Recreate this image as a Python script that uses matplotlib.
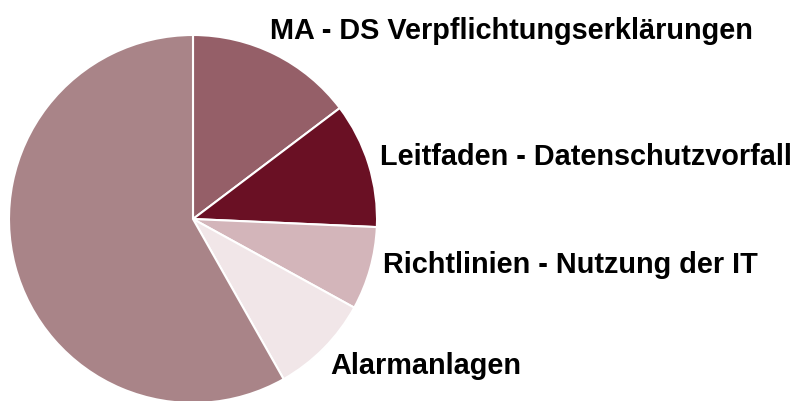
import matplotlib.pyplot as plt

categories = ["MA - DS Verpflichtungserklärungen",
              "Leitfaden - Datenschutzvorfall",
              "Richtlinien - Nutzung der IT",
              "Alarmanlagen",
              ""]
shares = [14.7, 11.0, 7.3, 8.8, 58.2]
colors = ["#955F68", "#6A1024", "#D3B5BA", "#F1E6E8", "#A98488"]

# label anchor points (left edge, vertical centre) in pixel units from bottom
label_pos = [(270, 370), (380, 244), (383, 136), (330, 35)]

fig = plt.figure(figsize=(7.97, 4.01), dpi=100)
ax = fig.add_axes([0, 0, 1, 1])
ax.pie(shares, colors=colors, startangle=90, counterclock=False,
       center=(193, 182), radius=184,
       wedgeprops=dict(edgecolor="white", linewidth=1.5))
ax.set_xlim(0, 797)
ax.set_ylim(0, 401)
ax.set_aspect("equal")
ax.axis("off")

for name, (x, y) in zip(categories, label_pos):
    ax.text(x, y, name, ha="left", va="center", fontsize=20.8,
            fontweight="bold", family="Liberation Sans", color="black")

fig.savefig("out.png", dpi=100)
